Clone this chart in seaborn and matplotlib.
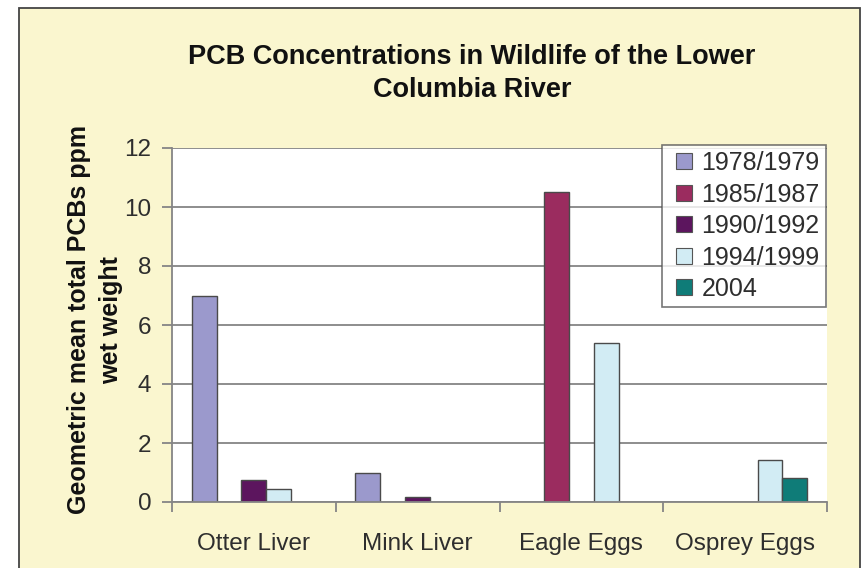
import pandas as pd
import matplotlib
matplotlib.use("Agg")
import matplotlib.pyplot as plt
from matplotlib.patches import Rectangle
from matplotlib.lines import Line2D
import seaborn as sns

SITES = ["Otter Liver", "Mink Liver", "Eagle Eggs", "Osprey Eggs"]
PERIODS = ["1978/1979", "1985/1987", "1990/1992", "1994/1999", "2004"]
# one list per sampling period, None where nothing was sampled
P1978 = [7.0, 1.0, None, None]
P1985 = [None, None, 10.5, None]
P1990 = [0.75, 0.17, None, None]
P1994 = [0.43, None, 5.4, 1.42]
P2004 = [None, None, None, 0.8]
COLORS = ["#9b99cc", "#9b2c5f", "#5c155e", "#d2ecf4", "#0f7c78"]
YTICKS = [0, 2, 4, 6, 8, 10, 12]

BG = "#faf6cf"
TXT = "#2e2e2e"
GRID = "#858585"

rows = []
for period, vals in zip(PERIODS, [P1978, P1985, P1990, P1994, P2004]):
    for site, v in zip(SITES, vals):
        if v is not None:
            rows.append({"site": site, "period": period, "ppm": v})
df = pd.DataFrame(rows)

sns.set_theme(style="white")
plt.rcParams["font.family"] = ["Liberation Sans", "DejaVu Sans"]

W, H = 864, 568
fig = plt.figure(figsize=(W / 100, H / 100), dpi=100, facecolor="white")
# yellow chart area with its dark frame
fig.add_artist(Rectangle((19 / W, -0.02), (860 - 19) / W, 1.02 - 8 / H,
                         transform=fig.transFigure, facecolor=BG,
                         edgecolor="#444444", linewidth=1.3, zorder=0))

ax = fig.add_axes([172 / W, 1 - 502 / H, (827 - 172) / W, (502 - 148) / H])
ax.set_facecolor("white")
sns.barplot(data=df, x="site", y="ppm", hue="period", order=SITES,
            hue_order=PERIODS, palette=COLORS, saturation=1, width=0.76,
            edgecolor="#4a4a4a", linewidth=1.0, errorbar=None, ax=ax,
            legend=False)

ax.set_xlim(-0.5, len(SITES) - 0.5)
ax.set_ylim(0, 12)
ax.set_yticks(YTICKS)
ax.set_xlabel("")
ax.set_ylabel("")
ax.set_axisbelow(True)
ax.yaxis.grid(True, color=GRID, linewidth=1.3)
for s in ["top", "right"]:
    ax.spines[s].set_visible(False)
for s in ["left", "bottom"]:
    ax.spines[s].set_color(GRID)
    ax.spines[s].set_linewidth(1.3)

ax.set_xticks([i - 0.5 for i in range(len(SITES) + 1)], minor=True)
ax.tick_params(axis="x", which="major", length=0, pad=22,
               labelsize=17.5, labelcolor=TXT)
ax.tick_params(axis="x", which="minor", direction="out", length=7,
               color=GRID, width=1.3, bottom=True)
ax.tick_params(axis="y", direction="out", length=7, color=GRID, width=1.3,
               pad=8, labelsize=17.5, labelcolor=TXT, left=True)

# square swatches, Excel style
handles = [Line2D([], [], linestyle="none", marker="s", markersize=11.5,
                  markerfacecolor=c, markeredgecolor="#555555",
                  markeredgewidth=0.8) for c in COLORS]
leg = ax.legend(handles, PERIODS, loc="upper right",
                bbox_to_anchor=(826 / W, 1 - 145 / H),
                bbox_transform=fig.transFigure, borderaxespad=0,
                frameon=True, fancybox=False, fontsize=18,
                handlelength=1.3, handletextpad=0.05,
                labelspacing=0.3, borderpad=0.25)
leg.get_frame().set_edgecolor("#555555")
leg.get_frame().set_linewidth(1.2)
for t in leg.get_texts():
    t.set_color(TXT)

fig.text(472 / W, 1 - 73.5 / H,
         "PCB Concentrations in Wildlife of the Lower\nColumbia River",
         ha="center", va="center", fontsize=19.5, fontweight="bold",
         color="#111111", linespacing=1.34)
fig.text(95 / W, 1 - 320 / H, "Geometric mean total PCBs ppm\nwet weight",
         ha="center", va="center", rotation=90, multialignment="center",
         fontsize=18, fontweight="bold", color="#111111", linespacing=1.42)

fig.savefig("out.png", dpi=100, facecolor=fig.get_facecolor())
